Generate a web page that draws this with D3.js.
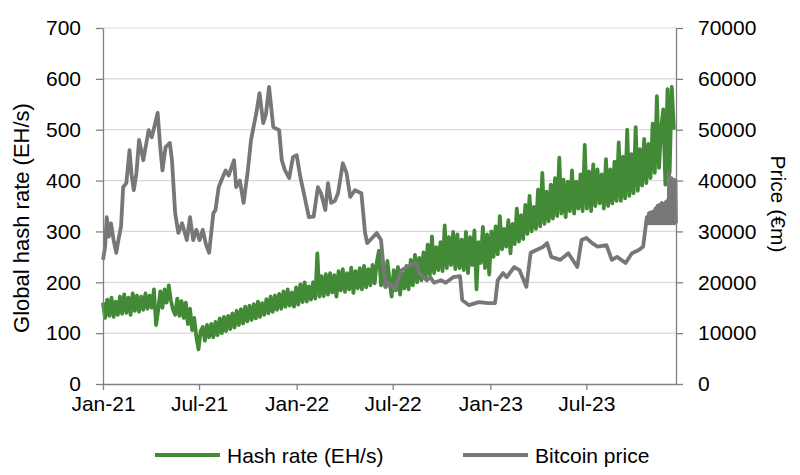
<!DOCTYPE html>
<html lang="en">
<head>
<meta charset="UTF-8">
<script src="https://d3js.org/d3.v7.min.js"></script>
<style>
  body { margin: 0; background: #fff; }
  svg text { font-family: "Liberation Sans", Arial, sans-serif; fill: #000; }
</style>
</head>
<body>
<svg id="chart" width="800" height="475"></svg>
<script>
// hash rate, one reading every 4 days from 1 Jan 2021 (EH/s)
const hashStart = "2021-01-01";
const hashStepDays = 4;
const hashRate = [
  160, 130, 166, 134, 170, 132, 162, 136,
  172, 138, 176, 140, 170, 136, 178,
  144, 174, 142, 172, 146, 178, 148, 174,
  150, 186, 116, 145, 182, 150, 186,
  160, 194, 164, 146, 136, 168, 134, 163,
  130, 160, 118, 148, 106, 130, 92,
  68, 104, 112, 85, 116, 92, 118, 92,
  122, 96, 129, 100, 132, 104, 134, 108,
  139, 111, 144, 116, 147, 119, 152,
  123, 154, 126, 157, 129, 162, 132, 159,
  136, 167, 139, 172, 142, 174, 146,
  177, 148, 182, 152, 186, 154, 180, 152,
  190, 156, 196, 161, 200, 162, 192,
  166, 200, 168, 257, 172, 212, 173, 216,
  176, 218, 180, 214, 172, 222, 184,
  226, 181, 218, 186, 229, 179, 222, 188,
  228, 186, 232, 190, 226, 194, 234,
  198, 239, 262, 194, 232, 191, 242, 204,
  172, 224, 184, 230, 176, 218, 188, 232,
  186, 244, 194, 254, 200, 248, 204,
  259, 208, 274, 214, 290, 218, 269, 224,
  279, 222, 312, 228, 289, 234, 299, 226,
  294, 228, 284, 224, 299, 218, 289,
  234, 302, 186, 279, 238, 309, 228, 294,
  215, 300, 250, 310, 255, 330, 265,
  305, 270, 322, 257, 315, 275, 345, 280,
  332, 285, 352, 295, 370, 300, 348, 305,
  382, 310, 415, 315, 378, 320, 392,
  325, 405, 330, 445, 335, 402, 328, 398,
  340, 420, 335, 398, 345, 412, 340,
  470, 345, 418, 340, 432, 350, 422, 355,
  412, 345, 442, 350, 422, 355, 437, 360,
  475, 360, 447, 365, 500, 370, 452,
  375, 505, 380, 462, 390, 482, 395, 472,
  405, 512, 415, 566, 425, 502, 540, 392,
  580, 415, 584, 500
];

// bitcoin price (EUR), readings at the dates given
const priceDates = [
  "2021-01-01","2021-01-05","2021-01-08","2021-01-12","2021-01-16","2021-01-21","2021-01-26","2021-01-30",
  "2021-02-04","2021-02-08","2021-02-14","2021-02-20","2021-02-24","2021-02-28","2021-03-05","2021-03-10",
  "2021-03-18","2021-03-28","2021-04-03","2021-04-14","2021-04-19","2021-04-23","2021-04-29","2021-05-07",
  "2021-05-11","2021-05-17","2021-05-23","2021-05-30","2021-06-08","2021-06-14","2021-06-20","2021-06-26",
  "2021-07-02","2021-07-08","2021-07-14","2021-07-20","2021-07-28","2021-08-01","2021-08-07","2021-08-14",
  "2021-08-20","2021-08-26","2021-09-05","2021-09-09","2021-09-16","2021-09-23","2021-10-01","2021-10-07",
  "2021-10-17","2021-10-23","2021-10-30","2021-11-04","2021-11-10","2021-11-18","2021-11-29","2021-12-04",
  "2021-12-10","2021-12-18","2021-12-25","2022-01-01","2022-01-08","2022-01-16","2022-01-24","2022-02-02",
  "2022-02-10","2022-02-16","2022-02-24","2022-03-01","2022-03-07","2022-03-14","2022-03-20","2022-03-29",
  "2022-04-05","2022-04-12","2022-04-21","2022-05-03","2022-05-10","2022-05-14","2022-05-25","2022-06-01",
  "2022-06-09","2022-06-13","2022-06-18","2022-06-25","2022-07-05","2022-07-18","2022-07-28","2022-08-14",
  "2022-08-20","2022-09-03","2022-09-10","2022-09-17","2022-09-30","2022-10-09","2022-10-23","2022-11-05",
  "2022-11-09","2022-11-22","2022-12-10","2022-12-28","2023-01-10","2023-01-15","2023-01-25","2023-02-01",
  "2023-02-15","2023-02-25","2023-03-10","2023-03-18","2023-03-28","2023-04-11","2023-04-18","2023-04-26",
  "2023-05-13","2023-05-28","2023-06-14","2023-06-22","2023-07-01","2023-07-12","2023-07-22","2023-08-08",
  "2023-08-18","2023-08-28","2023-09-13","2023-09-25","2023-10-07","2023-10-16","2023-10-23",
  "2023-10-25","2023-10-27","2023-10-29","2023-10-31","2023-11-02","2023-11-04","2023-11-06","2023-11-08",
  "2023-11-10","2023-11-12","2023-11-14","2023-11-16","2023-11-18","2023-11-20","2023-11-22","2023-11-24",
  "2023-11-26","2023-11-28","2023-11-30","2023-12-02","2023-12-03","2023-12-04","2023-12-06","2023-12-08",
  "2023-12-10","2023-12-12","2023-12-14","2023-12-16","2023-12-17"
];
const priceValues = [
  24400, 27000, 32800, 29000, 31600, 28300, 25800, 28300,
  31000, 38700, 39500, 46000, 41000, 38100, 41500, 48000,
  44000, 49900, 48500, 53300, 46500, 42000, 46600, 47400,
  44000, 33600, 29700, 31600, 28300, 32800, 28300, 30300,
  28300, 30300, 27500, 25800, 33600, 34200, 38700, 40500,
  42000, 41000, 44000, 38700, 40000, 35600, 42000, 48000,
  53300, 57200, 51300, 53000, 58400, 50500, 49900, 44000,
  42000, 40500, 44600, 45000, 40700, 36800, 32800, 32900,
  38700, 37500, 34200, 39500, 35600, 36000, 37500, 43400,
  41500, 36800, 38100, 37500, 29700, 27700, 28900, 29700,
  28300, 23800, 19100, 19900, 18500, 22400, 23000, 23800,
  21800, 20400, 21000, 19900, 20400, 19900, 21000, 21200,
  16500, 15500, 16100, 15900, 15900, 20400, 21800, 21000,
  23000, 22400, 19100, 25800, 26300, 27000, 27700, 25000,
  24400, 25700, 23000, 28300, 28700, 27700, 27000, 27300,
  24400, 25000, 23800, 25700, 26300, 27000, 32800,
  31600, 33600, 31600, 33800, 31600, 33900, 31600, 34500,
  31600, 35000, 31600, 35200, 31600, 35600, 31600, 35400,
  31600, 35800, 31600, 36200, 31600, 41500, 31600, 40500,
  31600, 40200, 31600, 40100, 31600
];

const xTicks = ["2021-01-01","2021-07-01","2022-01-01","2022-07-01","2023-01-01","2023-07-01"];
const hashTicks = [0, 100, 200, 300, 400, 500, 600, 700];
const priceTicks = [0, 10000, 20000, 30000, 40000, 50000, 60000, 70000];
const xEnd = "2023-12-17";

const parse = d3.utcParse("%Y-%m-%d");
const t0 = parse(hashStart);
const hashData = hashRate.map((v, i) => ({ date: d3.utcDay.offset(t0, i * hashStepDays), value: v }));
const priceData = priceDates.map((d, i) => ({ date: parse(d), value: priceValues[i] }));

const svg = d3.select("#chart");
const m = { left: 103, right: 124, top: 28, bottom: 91 };
const W = 800 - m.left - m.right;
const H = 475 - m.top - m.bottom;
const g = svg.append("g").attr("transform", `translate(${m.left},${m.top})`);

const x = d3.scaleUtc().domain([t0, parse(xEnd)]).range([0, W]);
const yL = d3.scaleLinear().domain([0, 700]).range([H, 0]);
const yR = d3.scaleLinear().domain([0, 70000]).range([H, 0]);

// gridlines
g.append("g").selectAll("line")
  .data(hashTicks.slice(1))
  .join("line")
  .attr("x1", 0).attr("x2", W)
  .attr("y1", d => yL(d)).attr("y2", d => yL(d))
  .attr("stroke", "#d9d9d9").attr("stroke-width", 1.2);

// series
const lineHash = d3.line().x(d => x(d.date)).y(d => yL(d.value));
const linePrice = d3.line().x(d => x(d.date)).y(d => yR(d.value));

g.append("path").datum(hashData)
  .attr("d", lineHash).attr("fill", "none")
  .attr("stroke", "#438a37").attr("stroke-width", 3.8)
  .attr("stroke-linejoin", "round");

g.append("path").datum(priceData)
  .attr("d", linePrice).attr("fill", "none")
  .attr("stroke", "#777777").attr("stroke-width", 3.8)
  .attr("stroke-linejoin", "round");

// axes
const fs = "21px";
const xAxis = g.append("g").attr("transform", `translate(0,${H})`)
  .call(d3.axisBottom(x).tickValues(xTicks.map(parse)).tickFormat(d3.utcFormat("%b-%y")).tickSize(6).tickSizeOuter(0).tickPadding(6));
const lAxis = g.append("g")
  .call(d3.axisLeft(yL).tickValues(hashTicks).tickSize(7).tickSizeOuter(0).tickPadding(15));
const rAxis = g.append("g").attr("transform", `translate(${W},0)`)
  .call(d3.axisRight(yR).tickValues(priceTicks).tickFormat(d3.format("d")).tickSize(7).tickSizeOuter(0).tickPadding(15));

[xAxis, lAxis, rAxis].forEach(a => {
  a.selectAll("path, line").attr("stroke", "#808080").attr("stroke-width", 1.3);
  a.selectAll("text").style("font-size", fs).attr("fill", "#000");
  a.attr("font-family", null);
});

// axis titles
svg.append("text")
  .attr("transform", `translate(29,${m.top + H / 2 + 12}) rotate(-90)`)
  .attr("text-anchor", "middle")
  .style("font-size", "22px")
  .text("Global hash rate (EH/s)");

svg.append("text")
  .attr("transform", `translate(771,${m.top + H / 2 - 2}) rotate(90)`)
  .attr("text-anchor", "middle")
  .style("font-size", fs)
  .text("Price (\u20ACm)");

// legend
const legendItems = [
  { label: "Hash rate (EH/s)", color: "#438a37", x: 155 },
  { label: "Bitcoin price", color: "#777777", x: 463 }
];
const lg = svg.append("g").selectAll("g").data(legendItems).join("g")
  .attr("transform", d => `translate(${d.x},455)`);
lg.append("line").attr("x1", 0).attr("x2", 65)
  .attr("stroke", d => d.color).attr("stroke-width", 4);
lg.append("text").attr("x", 72).attr("y", 7.5)
  .style("font-size", fs).text(d => d.label);
</script>
</body>
</html>
